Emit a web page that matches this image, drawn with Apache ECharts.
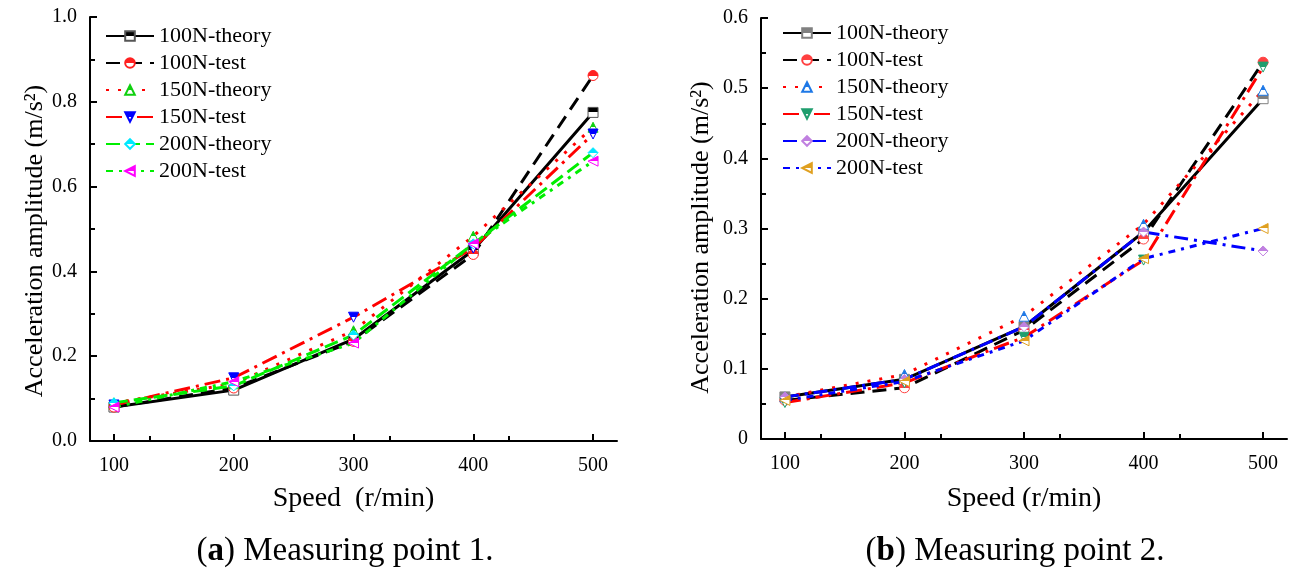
<!DOCTYPE html>
<html>
<head>
  <meta charset="utf-8">
  <title>Acceleration amplitude</title>
  <style>
    body {
      margin: 0;
      background: #fff;
    }

    #chart {
      width: 1295px;
      height: 570px;
    }
  </style>
</head>
<body>
  <div id="chart"></div>
  <script src="https://cdn.jsdelivr.net/npm/echarts@6/dist/echarts.min.js"></script>
  <script>
    var speeds = [100, 200, 300, 400, 500];
    var names = ['100N-theory', '100N-test', '150N-theory', '150N-test', '200N-theory', '200N-test'];

    // measuring point 1
    var p1_100theory = [0.08, 0.12, 0.24, 0.45, 0.775];
    var p1_100test = [0.08, 0.125, 0.235, 0.44, 0.862];
    var p1_150theory = [0.09, 0.135, 0.26, 0.483, 0.74];
    var p1_150test = [0.085, 0.149, 0.292, 0.455, 0.724];
    var p1_200theory = [0.09, 0.13, 0.25, 0.465, 0.68];
    var p1_200test = [0.08, 0.14, 0.231, 0.465, 0.66];

    // measuring point 2
    var p2_100theory = [0.06, 0.085, 0.16, 0.295, 0.485];
    var p2_100test = [0.055, 0.073, 0.155, 0.285, 0.537];
    var p2_150theory = [0.06, 0.092, 0.175, 0.306, 0.497];
    var p2_150test = [0.052, 0.08, 0.145, 0.255, 0.53];
    var p2_200theory = [0.06, 0.085, 0.16, 0.295, 0.268];
    var p2_200test = [0.055, 0.082, 0.14, 0.257, 0.3];

    var FONT = '"Liberation Serif", "DejaVu Serif", serif';
    var SYM_DOWN = 'path://M0,0 L10,0 L5,10 Z';
    var SYM_LEFT = 'path://M10,0 L10,10 L0,5 Z';
    // right panel series get an invisible suffix so each legend has its own set
    var SUFFIX = '\u200b';

    // marker: top half filled, bottom half white
    function half(c, border) {
      return {
        color: {
          type: 'linear', x: 0, y: 0, x2: 0, y2: 1,
          colorStops: [
            { offset: 0, color: c }, { offset: 0.5, color: c },
            { offset: 0.5, color: '#fff' }, { offset: 1, color: '#fff' }
          ]
        },
        borderColor: border || c,
        borderWidth: 1
      };
    }

    function line(name, idx, data, lineColor, dash, symbol, mark, border) {
      return {
        name: idx === 0 ? name : name + SUFFIX,
        type: 'line',
        xAxisIndex: idx,
        yAxisIndex: idx,
        data: speeds.map(function (s, i) { return [s, data[i]]; }),
        symbol: symbol,
        symbolSize: 10,
        showAllSymbol: true,
        lineStyle: { color: lineColor, width: 3, type: dash, cap: 'butt' },
        itemStyle: half(mark, border),
        emphasis: { disabled: true },
        z: 3
      };
    }

    function xAxis(idx) {
      return {
        type: 'value', gridIndex: idx, min: 80, max: 520,
        interval: 100,
        name: idx === 0 ? 'Speed  (r/min)' : 'Speed (r/min)',
        nameLocation: 'middle', nameGap: idx === 0 ? 44 : 46,
        nameTextStyle: { fontFamily: FONT, fontSize: 28, color: '#000' },
        axisLine: { lineStyle: { color: '#000', width: 2 } },
        axisTick: { inside: true, length: 7, lineStyle: { color: '#000', width: 2 },
          customValues: speeds },
        minorTick: { show: true, splitNumber: 2, length: 5, lineStyle: { color: '#000', width: 2 } },
        axisLabel: { fontFamily: FONT, fontSize: 20, color: '#000', margin: 15,
          customValues: speeds },
        splitLine: { show: false }
      };
    }

    function yAxis(idx) {
      var left = idx === 0;
      return {
        type: 'value', gridIndex: idx, min: 0,
        max: left ? 1.0 : 0.6,
        interval: left ? 0.2 : 0.1,
        name: 'Acceleration amplitude (m/s²)',
        nameLocation: 'middle', nameGap: left ? 38 : 47,
        nameTextStyle: { fontFamily: FONT, fontSize: 26, color: '#000',
          padding: [0, left ? 24 : 18, 0, 0] },
        axisLine: { show: true, lineStyle: { color: '#000', width: 2 } },
        axisTick: { show: true, inside: true, length: 7, lineStyle: { color: '#000', width: 2 } },
        minorTick: { show: true, splitNumber: 2, length: 5, lineStyle: { color: '#000', width: 2 } },
        axisLabel: {
          fontFamily: FONT, fontSize: 20, color: '#000', margin: 13,
          formatter: function (v) { return left ? v.toFixed(1) : String(Math.round(v * 10) / 10); }
        },
        splitLine: { show: false }
      };
    }

    function legend(idx, left, top) {
      return {
        show: true,
        data: names.map(function (n) { return idx === 0 ? n : n + SUFFIX; }),
        orient: 'vertical',
        left: left, top: top,
        itemWidth: 48, itemHeight: 12, itemGap: 5,
        textStyle: { fontFamily: FONT, fontSize: 22, lineHeight: 21, color: '#000' },
        selectedMode: false
      };
    }

    var chart = echarts.init(document.getElementById('chart'));

    var series = [
      line(names[0], 0, p1_100theory, '#000', 'solid', 'rect', '#000', '#555'),
      line(names[1], 0, p1_100test, '#000', [14, 8], 'circle', '#ff2020'),
      line(names[2], 0, p1_150theory, '#ff0000', [3, 9], 'triangle', '#10d010'),
      line(names[3], 0, p1_150test, '#ff0000', [16, 6, 3, 6], SYM_DOWN, '#0000ff'),
      line(names[4], 0, p1_200theory, '#00ee00', [14, 6], 'diamond', '#00e8ff'),
      line(names[5], 0, p1_200test, '#00ee00', [7, 6, 3, 6], SYM_LEFT, '#ff00ff'),
      line(names[0], 1, p2_100theory, '#000', 'solid', 'rect', '#808080'),
      line(names[1], 1, p2_100test, '#000', [14, 8], 'circle', '#ff4040'),
      line(names[2], 1, p2_150theory, '#ff0000', [3, 9], 'triangle', '#1e78e6'),
      line(names[3], 1, p2_150test, '#ff0000', [16, 6, 3, 6], SYM_DOWN, '#1f9e6e'),
      line(names[4], 1, p2_200theory, '#0000ff', [14, 6, 3, 6], 'diamond', '#c080e0'),
      line(names[5], 1, p2_200test, '#0000ff', [7, 6, 3, 6], SYM_LEFT, '#e0a020')
    ];

    var option = {
      animation: false,
      grid: [
        { left: 90, top: 17, width: 527, height: 424 },
        { left: 761, top: 18, width: 526, height: 421 }
      ],
      xAxis: [xAxis(0), xAxis(1)],
      yAxis: [yAxis(0), yAxis(1)],
      legend: [legend(0, 100, 20), legend(1, 777, 17)],
      title: [
        {
          text: '({a|a}) Measuring point 1.',
          left: 340, top: 530, textAlign: 'center',
          textStyle: { fontFamily: FONT, fontSize: 33, fontWeight: 'normal', color: '#000',
            rich: { a: { fontFamily: FONT, fontSize: 33, fontWeight: 'bold', color: '#000' } } }
        },
        {
          text: '({a|b}) Measuring point 2.',
          left: 1010, top: 530, textAlign: 'center',
          textStyle: { fontFamily: FONT, fontSize: 33, fontWeight: 'normal', color: '#000',
            rich: { a: { fontFamily: FONT, fontSize: 33, fontWeight: 'bold', color: '#000' } } }
        }
      ],
      series: series
    };
    chart.setOption(option);
  </script>
</body>
</html>
